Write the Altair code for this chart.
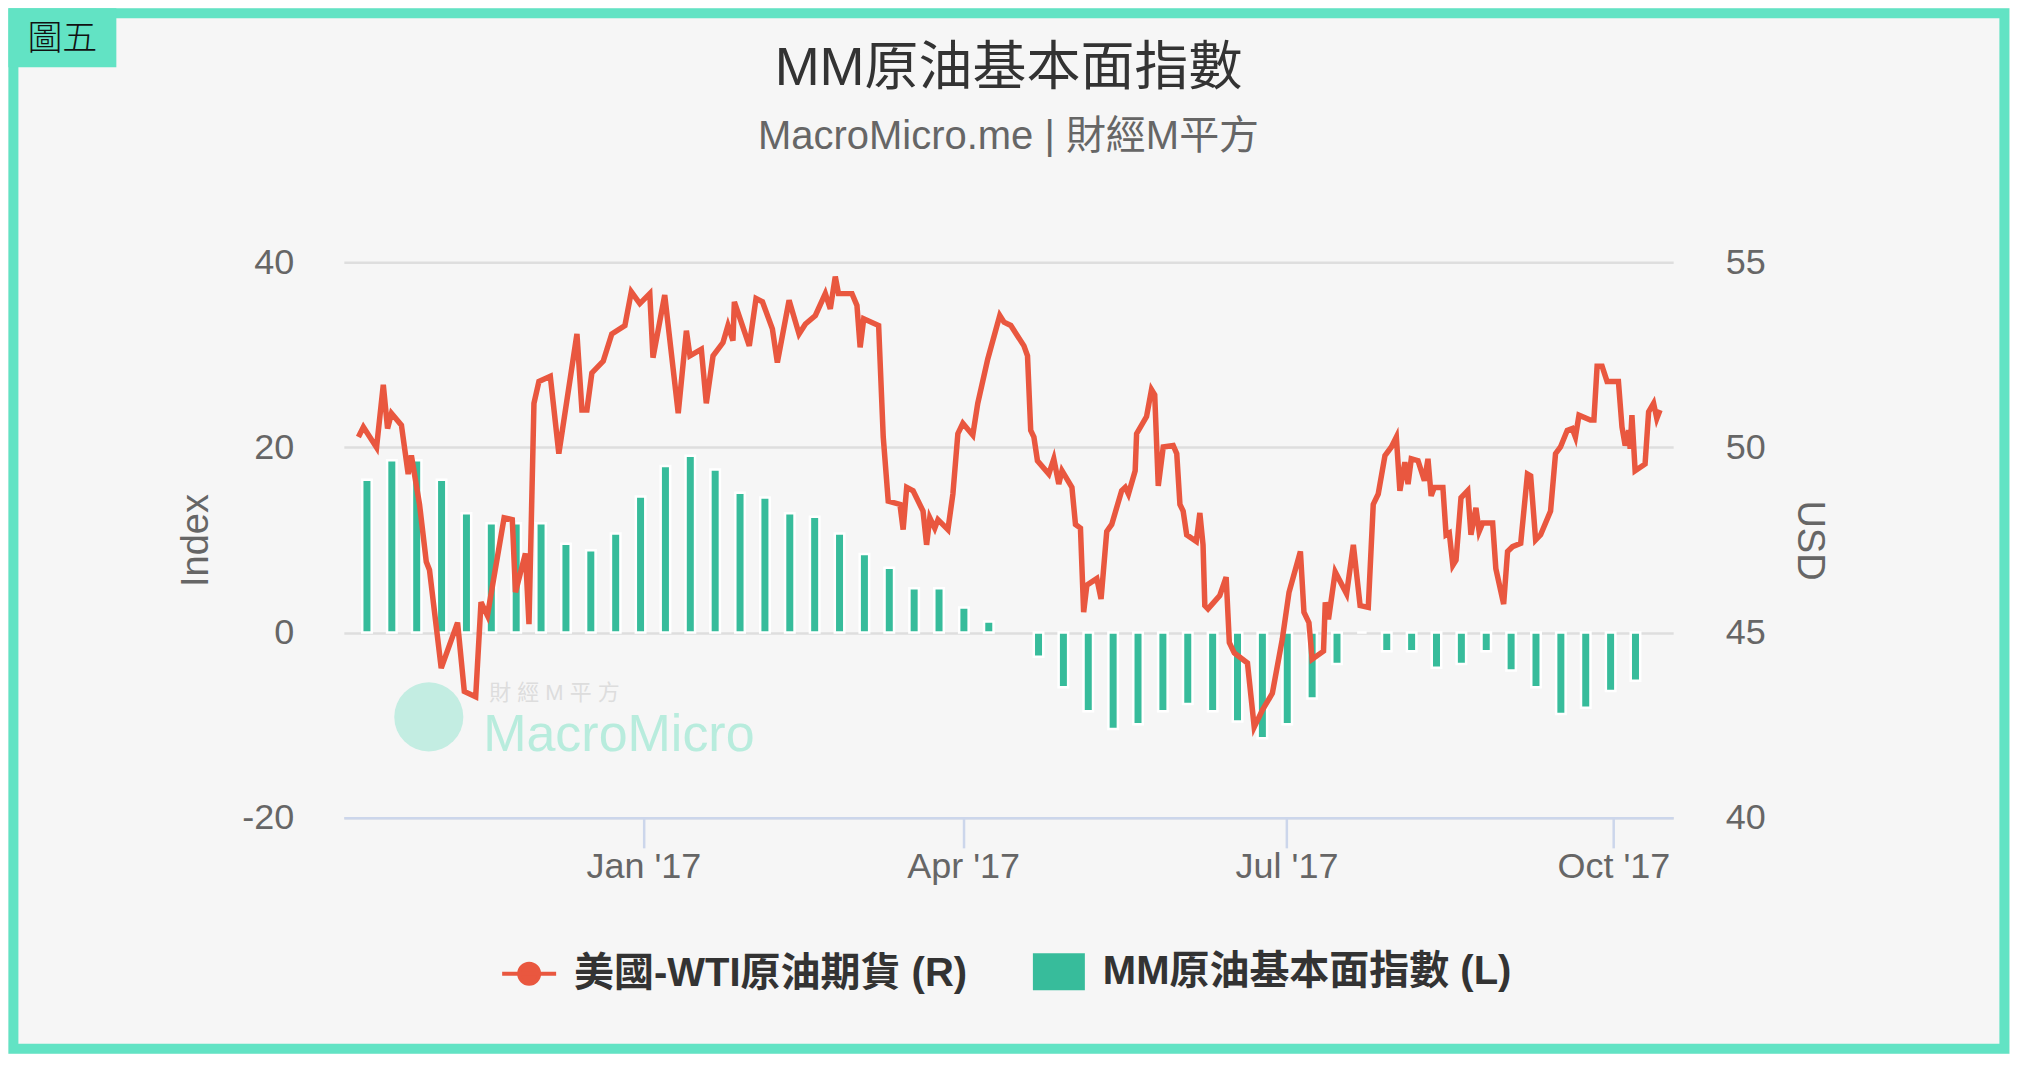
import json
import altair as alt
import pandas as pd

# ---------------- colours / fonts ----------------
RED = "#E9573F"
TEAL = "#37BC9B"
FRAME = "#62E3C4"
FONT = "Liberation Sans, Noto Sans CJK TC, sans-serif"

# ---------------- texts ----------------
title_text = "MM原油基本面指數"
subtitle_text = "MacroMicro.me | 財經M平方"
line_name = "美國-WTI原油期貨 (R)"
bar_name = "MM原油基本面指數 (L)"
badge_text = "圖五"
wm_cn = "財  經  M  平  方"
wm_en = "MacroMicro"

# ---------------- data (x = days since 2017-01-01) ----------------
bar_days = [-77.8, -70.8, -63.8, -56.8, -49.8, -42.8, -35.8, -28.8, -21.8, -14.8,
            -7.8, -0.8, 6.2, 13.2, 20.2, 27.2, 34.2, 41.2, 48.2, 55.2,
            62.2, 69.2, 76.2, 83.2, 90.2, 97.2, 111.2, 118.2, 125.2, 132.2,
            139.2, 146.2, 153.2, 160.2, 167.2, 174.2, 181.2, 188.2, 195.2, 202.2,
            209.2, 216.2, 223.2, 230.2, 237.2, 244.2, 251.2, 258.2, 265.2, 272.2,
            279.2]
bar_values = [16.5, 18.6, 18.6, 16.5, 12.9, 11.8, 11.8, 11.8, 9.6, 8.9,
              10.7, 14.7, 18.0, 19.1, 17.6, 15.1, 14.6, 12.9, 12.5, 10.7,
              8.5, 7.0, 4.8, 4.8, 2.7, 1.2, -2.6, -5.9, -8.5, -10.4,
              -9.9, -8.5, -7.7, -8.5, -9.6, -11.4, -9.9, -7.1, -3.4, 0.0,
              -2.0, -2.0, -3.8, -3.4, -2.0, -4.1, -5.9, -8.8, -8.1, -6.3,
              -5.2]

wti_days = [-80.2, -78.8, -75.1, -73.2, -72.0, -70.9, -68.1, -66.2, -65.3, -63.0,
            -61.1, -60.2, -56.9, -52.3, -50.4, -47.2, -45.7, -43.9, -39.2, -36.9,
            -36.0, -33.2, -32.2, -30.8, -29.4, -26.2, -23.8, -18.7, -17.3, -15.9,
            -14.5, -11.3, -8.9, -5.2, -3.4, -1.0, 1.8, 2.7, 6.0, 9.8,
            12.1, 13.1, 16.3, 17.7, 19.6, 22.4, 23.8, 25.2, 25.6, 29.8,
            31.7, 33.5, 36.3, 37.7, 41.0, 43.8, 45.6, 48.4, 51.2, 52.6,
            54.0, 54.9, 58.7, 60.1, 61.0, 62.0, 66.2, 67.5, 68.9, 72.2,
            73.1, 74.1, 75.9, 78.7, 79.7, 80.6, 82.0, 82.9, 85.7, 87.1,
            88.5, 89.9, 92.7, 94.1, 96.9, 100.3, 101.5, 103.4, 107.1, 108.1,
            109.0, 109.9, 110.9, 114.1, 115.5, 116.9, 117.8, 120.6, 121.6, 123.0,
            123.9, 124.8, 127.6, 128.8, 130.4, 131.8, 134.6, 135.6, 136.5, 138.4,
            138.8, 141.6, 143.0, 143.9, 144.9, 146.3, 149.1, 150.1, 151.0, 151.9,
            152.9, 155.6, 156.6, 157.5, 158.0, 158.9, 162.2, 164.0, 164.9, 166.3,
            170.0, 171.9, 174.2, 177.0, 179.8, 181.7, 184.9, 185.9, 187.3, 188.2,
            191.4, 191.9, 192.8, 194.7, 197.9, 199.8, 201.7, 204.0, 205.4, 206.8,
            208.7, 210.5, 211.9, 212.9, 214.3, 215.2, 216.1, 218.0, 219.8, 220.8,
            221.7, 222.6, 225.0, 225.9, 226.8, 227.8, 228.7, 230.1, 232.0, 232.9,
            234.3, 235.2, 236.2, 239.0, 239.9, 242.1, 243.2, 244.6, 246.9, 248.8,
            249.7, 251.1, 252.5, 255.3, 256.7, 258.1, 260.0, 261.4, 262.3, 263.3,
            266.5, 267.5, 268.4, 269.8, 271.2, 274.4, 275.4, 276.3, 277.3, 277.7,
            278.2, 279.1, 281.9, 282.9, 284.3, 285.2, 286.1]
wti_usd = [50.28, 50.55, 50.00, 51.69, 50.51, 50.92, 50.60, 49.28, 49.78, 48.46,
           46.91, 46.69, 44.04, 45.27, 43.41, 43.27, 45.82, 45.46, 48.10, 48.05,
           46.09, 47.14, 45.23, 51.19, 51.78, 51.92, 49.83, 53.06, 51.01, 51.01,
           52.01, 52.33, 53.06, 53.29, 54.20, 53.88, 54.15, 52.42, 54.11, 50.92,
           53.15, 52.47, 52.65, 51.19, 52.47, 52.83, 53.29, 52.88, 53.93, 52.74,
           54.02, 53.93, 53.20, 52.29, 53.97, 53.06, 53.33, 53.56, 54.15, 53.74,
           54.61, 54.15, 54.15, 53.83, 52.70, 53.47, 53.29, 50.28, 48.55, 48.46,
           47.78, 48.92, 48.83, 48.28, 47.37, 48.10, 47.82, 48.05, 47.78, 48.74,
           50.37, 50.65, 50.33, 51.19, 52.38, 53.56, 53.38, 53.29, 52.74, 52.47,
           50.46, 50.28, 49.64, 49.28, 49.69, 49.01, 49.37, 48.92, 47.92, 47.82,
           45.55, 46.28, 46.46, 45.91, 47.73, 47.92, 48.83, 48.92, 48.74, 49.37,
           50.37, 50.83, 51.56, 51.42, 48.96, 50.01, 50.05, 49.83, 48.46, 48.28,
           47.64, 47.46, 48.23, 47.37, 45.73, 45.64, 46.00, 46.50, 44.73, 44.45,
           44.18, 42.45, 42.91, 43.36, 44.82, 46.09, 47.19, 45.55, 45.27, 44.28,
           44.50, 45.82, 45.36, 46.64, 46.05, 47.37, 45.73, 45.68, 48.46, 48.74,
           49.78, 50.01, 50.28, 48.83, 49.60, 49.01, 49.69, 49.64, 49.10, 49.69,
           48.69, 48.92, 48.92, 47.64, 47.69, 46.82, 46.96, 48.64, 48.83, 47.64,
           48.37, 47.73, 47.96, 47.96, 46.73, 45.77, 47.19, 47.32, 47.41, 49.28,
           49.23, 47.50, 47.64, 48.28, 49.83, 50.01, 50.46, 50.51, 50.28, 50.87,
           50.74, 50.74, 52.19, 52.19, 51.78, 51.78, 50.55, 50.05, 50.46, 49.96,
           50.87, 49.37, 49.55, 50.96, 51.19, 50.78, 51.01]

tick_days = [0, 90, 181, 273]
tick_labels = ["Jan '17", "Apr '17", "Jul '17", "Oct '17"]
left_ticks = [-20, 0, 20, 40]
right_ticks = [40, 45, 50, 55]

bars_df = pd.DataFrame({"day": bar_days, "index": bar_values, "series": bar_name})
line_df = pd.DataFrame({"day": wti_days, "usd": wti_usd, "series": line_name})
deco = pd.DataFrame({"k": [0]})

W, H = 1330, 556

label_expr = "''"
for d, lab in reversed(list(zip(tick_days, tick_labels))):
    label_expr = f"datum.value == {d} ? {json.dumps(lab)} : ({label_expr})"

plain_num = "'' + datum.value"

x_enc = alt.X(
    "day:Q",
    scale=alt.Scale(domain=[-82.9, 288.4], nice=False, zero=False),
    axis=alt.Axis(values=tick_days, labelExpr=label_expr, title=None, grid=False,
                  domainColor="#ccd6eb", domainWidth=2.5, tickColor="#ccd6eb",
                  tickWidth=2.5, tickSize=30, labelPadding=2, labelFlush=False,
                  labelOverlap=False, labelFontSize=36, labelColor="#666666",
                  labelFont=FONT),
)

bars = alt.Chart(bars_df).mark_bar(size=9.5, stroke="white", strokeWidth=2.5).encode(
    x=x_enc,
    y=alt.Y("index:Q", scale=alt.Scale(domain=[-20, 40], nice=False),
            axis=alt.Axis(orient="left", values=left_ticks, labelExpr=plain_num,
                          title="Index", grid=True,
                          gridColor="#dedede", gridWidth=2.5, domain=False, ticks=False,
                          labelPadding=50, labelFontSize=36, labelColor="#666666",
                          labelFont=FONT, titleFontSize=38, titleColor="#666666",
                          titleFont=FONT, titleFontWeight="normal", titlePadding=26)),
    color=alt.Color("series:N", scale=alt.Scale(domain=[bar_name], range=[TEAL]),
                    legend=alt.Legend(title=None, orient="none", legendX=689.4, legendY=684,
                                      symbolType="M-1,-0.71H1V0.71H-1Z", symbolSize=2704,
                                      symbolStrokeWidth=0, symbolFillColor=TEAL,
                                      labelFontSize=40, labelFont=FONT, labelFontWeight="bold",
                                      labelColor="#333333", labelOffset=18, labelLimit=2000,
                                      padding=0)),
)

line = alt.Chart(line_df).mark_line(strokeWidth=5.5).encode(
    x=x_enc,
    y=alt.Y("usd:Q", scale=alt.Scale(domain=[40, 55], nice=False, zero=False),
            axis=alt.Axis(orient="right", values=right_ticks, labelExpr=plain_num,
                          title="USD", grid=False,
                          domain=False, ticks=False, labelPadding=52, labelFontSize=36,
                          labelColor="#666666", labelFont=FONT, titleFontSize=38,
                          titleColor="#666666", titleFont=FONT, titleFontWeight="normal",
                          titlePadding=24)),
    color=alt.Color("series:N", scale=alt.Scale(domain=[line_name], range=[RED]),
                    legend=alt.Legend(title=None, orient="none", legendX=156.4, legendY=683,
                                      symbolType="M-1,0H1M0.37,0A0.37,0.37,0,1,1,-0.37,0A0.37,0.37,0,1,1,0.37,0Z",
                                      symbolSize=2916, symbolStrokeWidth=4,
                                      symbolFillColor=RED, symbolStrokeColor=RED,
                                      labelFontSize=40, labelFont=FONT, labelFontWeight="bold",
                                      labelColor="#333333", labelOffset=16, labelLimit=2000,
                                      padding=0)),
)

# ---------------- decorations ----------------
frame = alt.Chart(deco).mark_rect(filled=False, stroke=FRAME, strokeWidth=10).encode(
    x=alt.value(-330.6), x2=alt.value(1661.4), y=alt.value(-249), y2=alt.value(787))
badge = alt.Chart(deco).mark_rect(fill=FRAME).encode(
    x=alt.value(-335.6), x2=alt.value(-227.6), y=alt.value(-254), y2=alt.value(-195))
badge_t = alt.Chart(deco).mark_text(text=badge_text, fontSize=35, color="#111111",
                                    font="Noto Sans CJK TC", fontWeight=300,
                                    align="center", baseline="middle").encode(
    x=alt.value(-281.6), y=alt.value(-223))
title_t = alt.Chart(deco).mark_text(text=title_text, fontSize=54, color="#333333",
                                    font=FONT, align="center",
                                    baseline="alphabetic").encode(
    x=alt.value(W / 2), y=alt.value(-177))
subtitle_t = alt.Chart(deco).mark_text(text=subtitle_text, fontSize=40, color="#666666",
                                       font=FONT, align="center",
                                       baseline="alphabetic").encode(
    x=alt.value(W / 2), y=alt.value(-113))
wm_circle = alt.Chart(deco).mark_circle(size=4778, color="#c3ede2", opacity=1).encode(
    x=alt.value(85), y=alt.value(455))
wm_cn_t = alt.Chart(deco).mark_text(text=wm_cn, fontSize=22, color="#dddddd", font=FONT,
                                    align="left", baseline="alphabetic").encode(
    x=alt.value(145.4), y=alt.value(438))
wm_en_t = alt.Chart(deco).mark_text(text=wm_en, fontSize=52, color="#b8ecdd", font=FONT,
                                    align="left", baseline="middle").encode(
    x=alt.value(139.4), y=alt.value(473))

chart = alt.layer(
    frame, badge, badge_t, title_t, subtitle_t, wm_circle, wm_cn_t, wm_en_t, bars, line
).resolve_scale(
    y="independent", color="independent"
).properties(
    width=W, height=H, padding=0
).configure(
    background="#f6f6f6"
).configure_view(
    stroke=None
)

chart.save("out.html", embed_options={"renderer": "svg", "actions": False})
